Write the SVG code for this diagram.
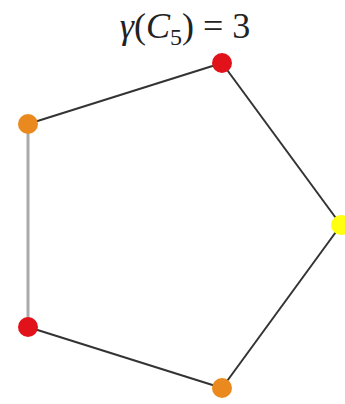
<svg xmlns="http://www.w3.org/2000/svg" width="345" height="404" viewBox="0 0 345 404">
<style>
.e{stroke:#333;stroke-width:2;fill:none}
.g{stroke:#aaa;stroke-width:3;fill:none}
.t{font-family:"Liberation Serif",serif;font-size:36px;fill:#222}
</style>
<rect width="345" height="404" fill="#fff"/>
<text class="t" x="185" y="38" text-anchor="middle"><tspan font-style="italic">γ</tspan>(<tspan font-style="italic">C</tspan><tspan font-size="24" dy="7">5</tspan><tspan dy="-7">) = 3</tspan></text>
<g id="edges">
<line class="e" x1="222" y1="63" x2="28" y2="124"/>
<line class="g" x1="28" y1="124" x2="28" y2="327"/>
<line class="e" x1="28" y1="327" x2="222" y2="388"/>
<line class="e" x1="222" y1="388" x2="341" y2="225"/>
<line class="e" x1="341" y1="225" x2="222" y2="63"/>
</g>
<g id="n1"><circle cx="222" cy="63" r="10" fill="#e2121a"/></g>
<g id="n2"><circle cx="28" cy="124" r="10" fill="#ea8a1e"/></g>
<g id="n3"><circle cx="28" cy="327" r="10" fill="#e2121a"/></g>
<g id="n4"><circle cx="222" cy="388" r="10" fill="#ea8a1e"/></g>
<g id="n5"><circle cx="341" cy="225" r="10" fill="#ffff10"/></g>
</svg>
